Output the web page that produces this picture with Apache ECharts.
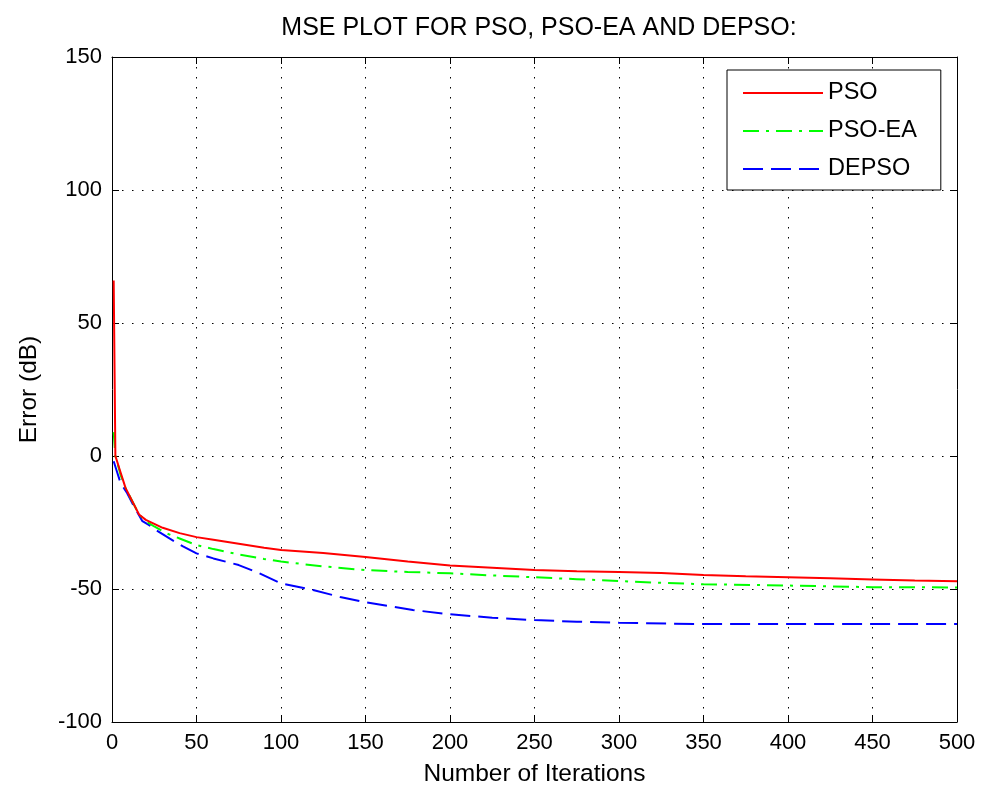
<!DOCTYPE html>
<html>
	<head>
		<meta charset="UTF-8">
		<title>MSE plot</title>
		<style>
			html, body { margin: 0; padding: 0; background: #fff; }
			#mse { width: 981px; height: 794px; }
		</style>
	</head>
	<body>
		<div id="mse"></div>
	</body>
	<script src="https://cdn.jsdelivr.net/npm/echarts@6/dist/echarts.min.js" type="text/javascript" charset="utf-8"></script>
	<script type="text/javascript">
		// values
		var psoIter = [1, 2, 3, 5, 8, 12, 16, 20, 25, 30, 40, 50, 60, 75, 90, 100, 125, 150, 175, 200, 225, 250, 275, 300, 325, 350, 375, 400, 425, 450, 475, 500];
		var psoErr = [66, 0, -2, -6, -12, -17, -22, -24, -25.5, -27, -29, -30.5, -31.5, -33, -34.5, -35.3, -36.5, -38, -39.7, -41.2, -42, -42.9, -43.3, -43.6, -44, -44.7, -45.2, -45.6, -46, -46.4, -46.8, -47.1];

		var psoeaIter = [1, 2, 3, 5, 8, 12, 16, 20, 25, 32, 40, 50, 60, 75, 90, 100, 125, 150, 175, 200, 225, 250, 275, 300, 325, 350, 400, 450, 500];
		var psoeaErr = [9, 0, -2, -7, -12, -17, -22, -24.5, -26.5, -29, -31, -33.5, -35, -37, -38.7, -39.7, -41.5, -42.9, -43.6, -44.1, -44.9, -45.6, -46.3, -47, -47.7, -48.2, -48.7, -49.3, -49.4];

		var depsoIter = [1, 3, 5, 9, 13, 18, 22, 26, 34, 42, 50, 60, 75, 87, 100, 119, 135, 150, 178, 200, 225, 250, 275, 300, 350, 400, 500];
		var depsoErr = [-2, -6, -10, -14, -19, -24.5, -26, -27.8, -31, -34, -36.6, -38.5, -41, -44, -47.9, -50.4, -53, -55, -57.9, -59.5, -60.8, -61.7, -62.3, -62.7, -63.2, -63.2, -63.2];

		var xTicks = { min: 0, max: 500, step: 50 };
		var yTicks = { min: -100, max: 150, step: 50 };

		function pairs(xs, ys) {
			return xs.map(function (x, i) { return [x, ys[i]]; });
		}

		var FONT = 'Liberation Sans, Arial, sans-serif';
		var chart = echarts.init(document.getElementById('mse'), null, { renderer: 'canvas' });

		var dotted = { color: '#000', width: 1, type: [1.5, 8.5] };

		function boxAxis(t, pos, isMain) {
			return {
				type: 'value',
				position: pos,
				min: t.min,
				max: t.max,
				interval: t.step,
				axisLine: { show: true, onZero: false, lineStyle: { color: '#000', width: 1 } },
				axisTick: { show: true, inside: true, length: 7, lineStyle: { color: '#000' } },
				axisLabel: {
					show: isMain,
					color: '#000',
					fontFamily: FONT,
					fontSize: 22,
					margin: 10,
					showMinLabel: true,
					showMaxLabel: true
				},
				splitLine: { show: isMain, lineStyle: dotted }
			};
		}

		var xMain = boxAxis(xTicks, 'bottom', true);
		xMain.name = 'Number of Iterations';
		xMain.nameLocation = 'middle';
		xMain.nameGap = 40;
		xMain.nameTextStyle = { color: '#000', fontFamily: FONT, fontSize: 24.5 };

		var yMain = boxAxis(yTicks, 'left', true);
		yMain.name = 'Error (dB)';
		yMain.nameLocation = 'middle';
		yMain.nameGap = 70;
		yMain.nameTextStyle = { color: '#000', fontFamily: FONT, fontSize: 24.5 };

		var option = {
			backgroundColor: '#fff',
			animation: false,
			title: {
				text: 'MSE PLOT FOR PSO, PSO-EA AND DEPSO:',
				left: 534,
				textAlign: 'center',
				top: 11,
				textStyle: { color: '#000', fontFamily: FONT, fontSize: 25, fontWeight: 'normal' }
			},
			grid: { left: 112, right: 24, top: 57, bottom: 72 },
			legend: {
				orient: 'vertical',
				left: 727,
				top: 70,
				padding: [11, 24, 9, 15],
				itemWidth: 80,
				itemHeight: 14,
				itemGap: 14,
				backgroundColor: '#fff',
				borderColor: '#000',
				borderWidth: 1,
				borderRadius: 0,
				itemStyle: { opacity: 0 },
				textStyle: { color: '#000', fontFamily: FONT, fontSize: 23.5 },
				data: ['PSO', 'PSO-EA', 'DEPSO']
			},
			xAxis: [xMain, boxAxis(xTicks, 'top', false)],
			yAxis: [yMain, boxAxis(yTicks, 'right', false)],
			series: [
				{
					name: 'PSO',
					type: 'line',
					symbol: 'none',
					color: '#ff0000',
					lineStyle: { color: '#ff0000', width: 2, type: 'solid' },
					data: pairs(psoIter, psoErr),
					z: 4
				},
				{
					name: 'PSO-EA',
					type: 'line',
					symbol: 'none',
					color: '#00ff00',
					lineStyle: { color: '#00ff00', width: 2, type: [16, 7, 3, 7] },
					data: pairs(psoeaIter, psoeaErr),
					z: 3
				},
				{
					name: 'DEPSO',
					type: 'line',
					symbol: 'none',
					color: '#0000ff',
					lineStyle: { color: '#0000ff', width: 2, type: [20, 8] },
					data: pairs(depsoIter, depsoErr),
					z: 2
				}
			]
		};

		chart.setOption(option);
	</script>
</html>
